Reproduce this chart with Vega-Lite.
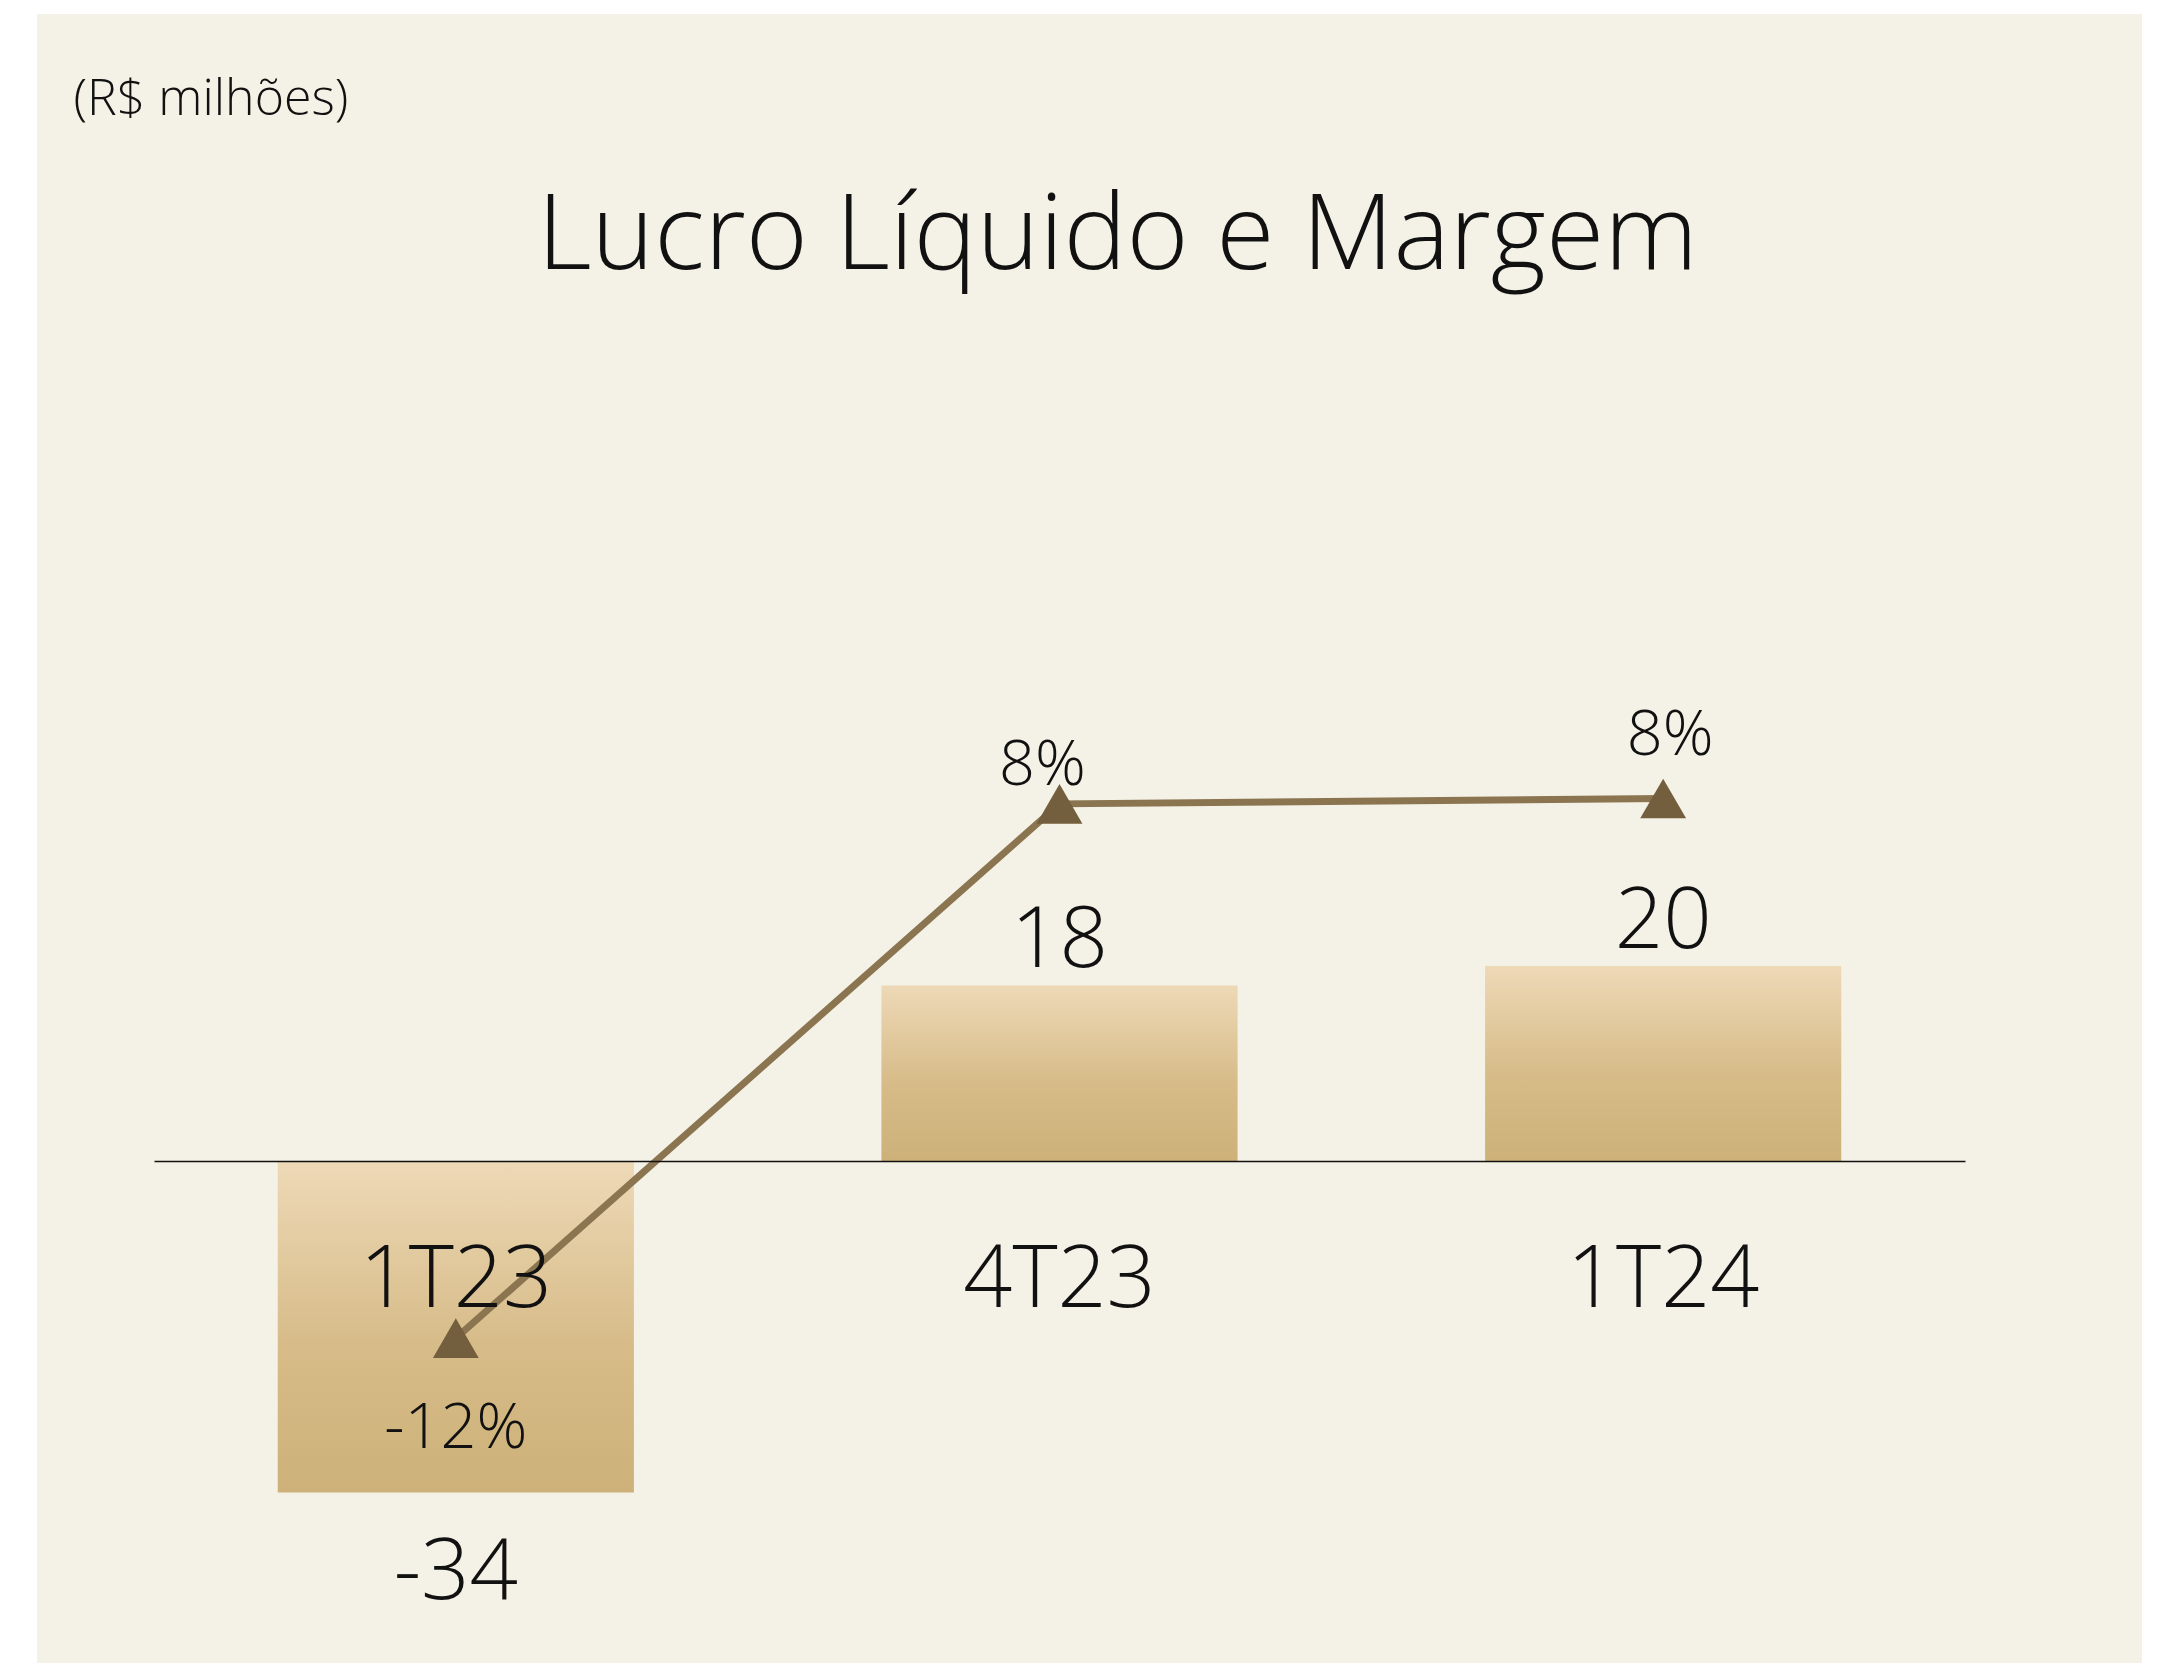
{
  "$schema": "https://vega.github.io/schema/vega-lite/v6.json",
  "width": 2105,
  "height": 1649,
  "autosize": {"type": "none"},
  "padding": {"left": 37, "top": 14, "right": 16, "bottom": 2},
  "background": "#ffffff",
  "config": {
    "view": {"fill": "#f4f1e6", "stroke": null},
    "font": "Open Sans",
    "locale": {"number": {"decimal": ".", "thousands": ",", "grouping": [3], "currency": ["$", ""], "minus": "-"}}
  },
  "title": {
    "text": "Lucro Líquido e Margem",
    "anchor": "middle",
    "frame": "group",
    "font": "Open Sans",
    "fontWeight": 300,
    "fontSize": 106,
    "color": "#111111",
    "baseline": "alphabetic",
    "dx": 28,
    "offset": -361
  },
  "data": {
    "values": [
      {"q": "1T23", "lucro": -34, "margem": -0.12},
      {"q": "4T23", "lucro": 18, "margem": 0.079},
      {"q": "1T24", "lucro": 20, "margem": 0.081}
    ]
  },
  "encoding": {
    "x": {
      "field": "q",
      "type": "nominal",
      "sort": null,
      "scale": {"range": [117, 1928], "paddingInner": 0.41, "paddingOuter": 0.205},
      "axis": {
        "orient": "bottom",
        "offset": -502,
        "zindex": 1,
        "title": null,
        "domain": true,
        "domainColor": "#111111",
        "domainWidth": 1.5,
        "ticks": false,
        "tickSize": 0,
        "grid": false,
        "labelAngle": 0,
        "labelLimit": 1000,
        "labelOverlap": false,
        "labelPadding": 145,
        "labelBaseline": "alphabetic",
        "labelFont": "Open Sans",
        "labelFontWeight": 300,
        "labelFontSize": 86,
        "labelColor": "#111111"
      }
    }
  },
  "layer": [
    {
      "mark": {
        "type": "bar",
        "fill": {
          "gradient": "linear",
          "x1": 0, "y1": 0, "x2": 0, "y2": 1,
          "stops": [
            {"offset": 0, "color": "#eed9b7"},
            {"offset": 0.55, "color": "#d7bc89"},
            {"offset": 1, "color": "#cdb179"}
          ]
        }
      },
      "encoding": {
        "y": {
          "field": "lucro",
          "type": "quantitative",
          "scale": {"domain": [-51.49, 117.64], "nice": false, "zero": false},
          "axis": {
            "title": "(R$ milhões)",
            "titleAngle": 0,
            "titleX": 36,
            "titleY": 100,
            "titleAlign": "left",
            "titleBaseline": "alphabetic",
            "titleFont": "Open Sans",
            "titleFontWeight": 300,
            "titleFontSize": 50,
            "titleColor": "#111111",
            "labels": false,
            "ticks": false,
            "domain": false,
            "grid": false
          }
        }
      }
    },
    {
      "transform": [{"filter": "datum.lucro > 0"}],
      "mark": {"type": "text", "baseline": "alphabetic", "align": "center", "dy": -18, "font": "Open Sans", "fontWeight": 300, "fontSize": 85, "color": "#111111"},
      "encoding": {
        "y": {"field": "lucro", "type": "quantitative", "scale": {"domain": [-51.49, 117.64], "nice": false, "zero": false}, "axis": null},
        "text": {"field": "lucro", "type": "quantitative", "format": "d"}
      }
    },
    {
      "transform": [{"filter": "datum.lucro < 0"}],
      "mark": {"type": "text", "baseline": "alphabetic", "align": "center", "dy": 107, "font": "Open Sans", "fontWeight": 300, "fontSize": 85, "color": "#111111"},
      "encoding": {
        "y": {"field": "lucro", "type": "quantitative", "scale": {"domain": [-51.49, 117.64], "nice": false, "zero": false}, "axis": null},
        "text": {"field": "lucro", "type": "quantitative", "format": "d"}
      }
    },
    {
      "layer": [
        {
          "mark": {"type": "line", "color": "#8b7550", "strokeWidth": 7},
          "encoding": {
            "y": {"field": "margem", "type": "quantitative", "scale": {"domain": [-0.241, 0.3732], "nice": false, "zero": false}, "axis": null}
          }
        },
        {
          "mark": {"type": "point", "shape": "triangle-up", "filled": true, "size": 2100, "color": "#735f3e", "opacity": 1},
          "encoding": {
            "y": {"field": "margem", "type": "quantitative", "axis": null}
          }
        },
        {
          "transform": [{"filter": "datum.q == '1T23'"}],
          "mark": {"type": "text", "baseline": "alphabetic", "align": "center", "dy": 110, "font": "Open Sans", "fontWeight": 300, "fontSize": 63, "color": "#111111"},
          "encoding": {
            "y": {"field": "margem", "type": "quantitative", "axis": null},
            "text": {"field": "margem", "type": "quantitative", "format": ".0%"}
          }
        },
        {
          "transform": [{"filter": "datum.q == '4T23'"}],
          "mark": {"type": "text", "baseline": "alphabetic", "align": "center", "dy": -19, "dx": -17, "font": "Open Sans", "fontWeight": 300, "fontSize": 63, "color": "#111111"},
          "encoding": {
            "y": {"field": "margem", "type": "quantitative", "axis": null},
            "text": {"field": "margem", "type": "quantitative", "format": ".0%"}
          }
        },
        {
          "transform": [{"filter": "datum.q == '1T24'"}],
          "mark": {"type": "text", "baseline": "alphabetic", "align": "center", "dy": -43, "dx": 7, "font": "Open Sans", "fontWeight": 300, "fontSize": 63, "color": "#111111"},
          "encoding": {
            "y": {"field": "margem", "type": "quantitative", "axis": null},
            "text": {"field": "margem", "type": "quantitative", "format": ".0%"}
          }
        }
      ]
    }
  ],
  "resolve": {"scale": {"y": "independent"}, "axis": {"y": "independent"}}
}
